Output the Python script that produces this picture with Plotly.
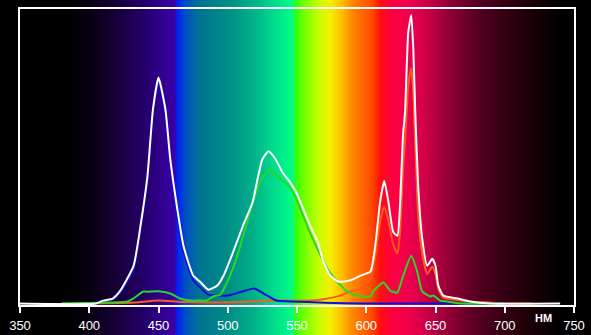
import plotly.graph_objects as go
import numpy as np

# ---------------- data ----------------
white_nm = [350, 405, 410, 417, 422, 432, 437, 442, 446, 450, 455, 458.5, 463.6, 468, 475, 480, 486, 492.5,
            497, 504, 511, 518, 521.5, 525, 529.5, 534.5, 539.5, 545, 550, 554.5, 559.5, 565, 569, 574, 580,
            588, 596, 603, 606.5, 610, 613, 616, 619.5, 622.5, 624.5, 626.5, 628, 630.3, 632.5, 634, 635.4,
            637.5, 640.4, 644, 647.6, 650, 652, 655.6, 666, 675, 690, 740]
white_val = [0, 0, 0.01, 0.017, 0.041, 0.128, 0.264, 0.432, 0.659, 0.767, 0.659, 0.49, 0.32, 0.196, 0.095,
             0.074, 0.047, 0.061, 0.095, 0.176, 0.264, 0.345, 0.422, 0.49, 0.517, 0.49, 0.446, 0.412, 0.372,
             0.321, 0.264, 0.209, 0.142, 0.095, 0.074, 0.078, 0.095, 0.108, 0.196, 0.345, 0.416, 0.345, 0.243,
             0.230, 0.345, 0.569, 0.648, 0.919, 0.980, 0.861, 0.648, 0.399, 0.220, 0.128, 0.152, 0.128, 0.061,
             0.027, 0.017, 0.007, 0.0, 0.0]

blue_nm = [380, 405, 410, 417, 422, 432, 437, 442, 446, 450, 455, 458.5, 463.6, 468, 475, 480, 486, 492,
           500, 510, 519, 526, 535, 545, 570, 600, 700]
blue_val = [0, 0, 0.007, 0.014, 0.035, 0.115, 0.25, 0.42, 0.645, 0.755, 0.64, 0.47, 0.30, 0.18, 0.08, 0.055,
            0.03, 0.027, 0.027, 0.04, 0.051, 0.034, 0.01, 0.007, 0.003, 0.0, 0.0]

green_nm = [380, 410, 427.5, 431.8, 439, 442, 449.9, 458.5, 465.7, 473, 480, 485, 489.6, 494.6, 499.7, 506.9,
            514, 521.4, 525.7, 530.7, 535.8, 543, 547.3, 552.4, 558.2, 564.7, 571.9, 579.1, 586.3, 593.5, 603,
            605, 612.3, 617.3, 622.4, 626.7, 632.5, 636.8, 640.4, 646.2, 648.4, 653.4, 658.5, 670, 700]
green_val = [0, 0.003, 0.007, 0.017, 0.041, 0.04, 0.042, 0.034, 0.017, 0.01, 0.01, 0.01, 0.024, 0.03, 0.074,
             0.162, 0.277, 0.389, 0.432, 0.456, 0.432, 0.405, 0.378, 0.321, 0.253, 0.186, 0.118, 0.074, 0.041,
             0.027, 0.024, 0.041, 0.071, 0.044, 0.037, 0.095, 0.162, 0.108, 0.041, 0.024, 0.027, 0.01, 0.007,
             0.0, 0.0]

red_nm = [380, 430, 450, 470, 500, 530, 560, 570, 580, 588, 596, 603, 606.5, 610, 613, 616, 619.5, 622.5,
          624.5, 626.5, 628, 630.3, 632.5, 634, 635.4, 637.5, 640.4, 644, 647.6, 650, 652, 655.6, 666, 675,
          690, 700, 720]
red_val = [0, 0.003, 0.01, 0.005, 0.004, 0.01, 0.01, 0.015, 0.025, 0.04, 0.05, 0.08, 0.16, 0.28, 0.33, 0.28,
           0.2, 0.17, 0.25, 0.45, 0.55, 0.74, 0.80, 0.72, 0.54, 0.30, 0.17, 0.10, 0.125, 0.10, 0.05, 0.02,
           0.012, 0.006, 0.003, 0.0, 0.0]

tick_vals = [350, 400, 450, 500, 550, 600, 650, 700, 750]
tick_text = ["350", "400", "450", "500", "550", "600", "650", "700", "750"]
unit_label = "НМ"

# background spectrum colour stops (wavelength, colour)
bg_nm = [385, 400, 420, 440, 462, 463.5, 470, 480, 500, 520, 535, 547, 549, 555, 565, 574, 582, 590, 605,
         610, 618, 630, 640, 650, 665, 680, 700, 720, 742]
bg_col = ["#000000", "#080012", "#160038", "#24006a", "#3a00a8", "#0020f8", "#0050c0", "#007492", "#008c86",
          "#00b48a", "#00e08c", "#00ff84", "#30ff10", "#70ff00", "#c0ff00", "#f4f000", "#ffc000", "#ff8800",
          "#ff4400", "#ff1010", "#ff0040", "#f0004c", "#d80048", "#b40040", "#800030", "#560020", "#340012",
          "#180006", "#000000"]

# ---------------- layout geometry ----------------
W, H = 591, 335
PLOT_L, PLOT_R, PLOT_T, PLOT_B = 20, 574, 9, 305   # plot frame in pixels
X_RANGE = [350, 750]
Y_RANGE = [-0.005, 1.0]

dom_x = [PLOT_L / W, PLOT_R / W]
dom_y = [(H - PLOT_B) / H, (H - PLOT_T) / H]

# background axis spans the whole figure, aligned with the data axis
px_per_nm = (PLOT_R - PLOT_L) / (X_RANGE[1] - X_RANGE[0])
bg_range = [X_RANGE[0] - PLOT_L / px_per_nm, X_RANGE[1] + (W - PLOT_R) / px_per_nm]

bg_x = np.arange(np.floor(bg_range[0]), np.ceil(bg_range[1]) + 1, 0.5)
bg_z = [list(np.clip(bg_x, bg_nm[0], bg_nm[-1]))]
zmin, zmax = bg_nm[0], bg_nm[-1]
colorscale = [[(n - zmin) / (zmax - zmin), c] for n, c in zip(bg_nm, bg_col)]

fig = go.Figure()
fig.add_trace(go.Heatmap(x=bg_x, y=[0], z=bg_z, colorscale=colorscale, zmin=zmin, zmax=zmax,
                         showscale=False, hoverinfo="skip", xaxis="x", yaxis="y"))

line_kw = dict(shape="spline", smoothing=0.5)
for xs, ys, col in [(red_nm, red_val, "#ff5a1e"), (blue_nm, blue_val, "#1010d8"),
                    (green_nm, green_val, "#28d828"), (white_nm, white_val, "#ffffff")]:
    fig.add_trace(go.Scatter(x=xs, y=ys, mode="lines", line=dict(color=col, width=2, **line_kw),
                             xaxis="x2", yaxis="y2"))

fig.update_layout(
    width=W, height=H,
    margin=dict(l=0, r=0, t=0, b=0, autoexpand=False),
    paper_bgcolor="#000000", plot_bgcolor="rgba(0,0,0,0)",
    showlegend=False,
    font=dict(family="Liberation Sans, Arial, sans-serif", color="#ffffff", size=13),
    xaxis=dict(domain=[0, 1], range=bg_range, visible=False, fixedrange=True, automargin=False),
    yaxis=dict(domain=[0, 1], range=[-0.5, 0.5], visible=False, fixedrange=True, automargin=False),
    xaxis2=dict(domain=dom_x, anchor="y2", range=X_RANGE, tickvals=tick_vals, ticktext=tick_text,
                showgrid=False, zeroline=False, showline=True, linecolor="#ffffff", linewidth=1.5,
                mirror=True, ticks="outside", ticklen=6, tickwidth=1.5, tickcolor="#ffffff",
                ticklabelstandoff=2, tickfont=dict(size=13, color="#ffffff"), automargin=False),
    yaxis2=dict(domain=dom_y, anchor="x2", range=Y_RANGE, showgrid=False, zeroline=False,
                showticklabels=False, showline=True, linecolor="#ffffff", linewidth=1.5, mirror=True,
                ticks="", automargin=False),
    annotations=[dict(text="<b>" + unit_label + "</b>", x=728, xref="x2", y=(H - 318) / H, yref="paper",
                      showarrow=False, font=dict(size=11, color="#ffffff"), xanchor="center",
                      yanchor="middle")],
)

fig.write_html("out.html")
